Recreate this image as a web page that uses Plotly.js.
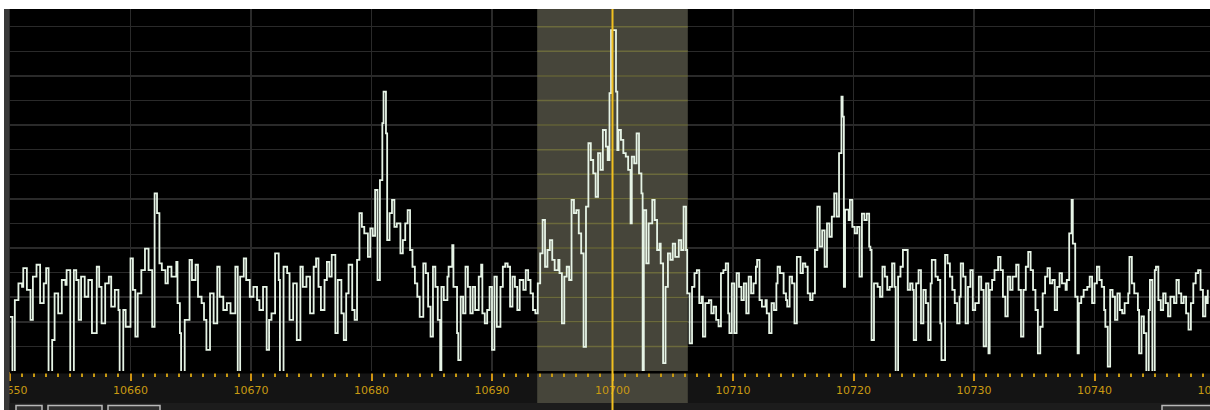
<!DOCTYPE html>
<html>
<head>
<meta charset="utf-8">
<script src="https://cdn.plot.ly/plotly-3.0.1.min.js"></script>
<style>
  html, body { margin: 0; padding: 0; background: #ffffff; overflow: hidden; width: 1210px; height: 410px; }
  #chart { width: 1215px; height: 410px; }
</style>
</head>
<body>
<div id="chart"></div>
<script>
const freqs = [
  10650.0,10650.2,10650.4,10650.7,10651.0,10651.1,10651.4,10651.7,10651.9,10652.2,10652.5,10652.8,10653.0,10653.2,10653.5,10653.7,
  10654.0,10654.3,10654.6,10654.7,10655.0,10655.3,10655.5,10655.7,10655.9,10656.2,10656.5,10656.8,10657.2,10657.4,10657.6,10657.9,
  10658.2,10658.4,10658.7,10659.0,10659.1,10659.4,10659.6,10660.0,10660.2,10660.4,10660.6,10660.9,10661.2,10661.5,10661.8,10662.0,
  10662.2,10662.4,10662.6,10662.9,10663.1,10663.4,10663.8,10663.9,10664.1,10664.2,10664.5,10664.9,10665.1,10665.4,10665.6,10665.9,
  10666.1,10666.3,10666.6,10666.9,10667.2,10667.4,10667.7,10668.0,10668.3,10668.7,10668.9,10669.1,10669.4,10669.6,10669.9,10670.2,
  10670.5,10670.7,10671.0,10671.3,10671.5,10671.7,10672.0,10672.3,10672.4,10672.7,10673.0,10673.2,10673.5,10673.8,10674.1,10674.3,
  10674.6,10674.9,10675.2,10675.4,10675.6,10675.8,10676.1,10676.3,10676.5,10676.7,10677.0,10677.2,10677.5,10677.7,10677.9,10678.1,
  10678.4,10678.6,10678.8,10679.0,10679.2,10679.4,10679.7,10679.9,10680.1,10680.3,10680.5,10680.7,10680.9,10681.0,10681.2,10681.3,
  10681.5,10681.7,10681.9,10682.1,10682.4,10682.6,10682.8,10683.0,10683.2,10683.4,10683.6,10683.8,10684.0,10684.3,10684.5,10684.7,
  10684.9,10685.1,10685.3,10685.5,10685.7,10685.8,10686.0,10686.3,10686.4,10686.7,10686.8,10687.1,10687.2,10687.4,10687.6,10687.8,
  10688.0,10688.2,10688.4,10688.6,10688.9,10689.1,10689.2,10689.4,10689.6,10689.8,10690.0,10690.2,10690.4,10690.7,10690.9,10691.1,
  10691.3,10691.5,10691.7,10691.9,10692.1,10692.3,10692.6,10692.8,10693.0,10693.2,10693.4,10693.6,10693.8,10694.0,10694.2,10694.4,
  10694.6,10694.8,10695.0,10695.2,10695.5,10695.6,10695.8,10696.0,10696.2,10696.4,10696.6,10696.8,10697.0,10697.2,10697.4,10697.6,
  10697.8,10698.0,10698.2,10698.4,10698.6,10698.8,10699.0,10699.2,10699.45,10699.6,10699.75,10699.88,10700.29,10700.4,10700.5,10700.7,
  10700.9,10701.1,10701.3,10701.5,10701.6,10701.8,10702.0,10702.2,10702.4,10702.5,10702.6,10702.8,10703.0,10703.3,10703.5,10703.7,
  10703.9,10704.0,10704.2,10704.4,10704.6,10704.8,10705.0,10705.2,10705.5,10705.7,10705.9,10706.1,10706.2,10706.4,10706.6,10706.8,
  10707.0,10707.2,10707.4,10707.5,10707.7,10708.0,10708.2,10708.4,10708.6,10708.8,10709.0,10709.2,10709.4,10709.6,10709.7,10709.9,
  10710.1,10710.3,10710.5,10710.7,10710.9,10711.1,10711.3,10711.5,10711.7,10711.9,10712.0,10712.2,10712.4,10712.7,10712.8,10713.0,
  10713.2,10713.4,10713.6,10713.7,10713.9,10714.2,10714.4,10714.5,10714.7,10714.9,10715.1,10715.3,10715.6,10715.8,10716.0,10716.2,
  10716.4,10716.6,10716.8,10717.0,10717.2,10717.4,10717.6,10717.8,10718.0,10718.2,10718.4,10718.6,10718.8,10719.0,10719.1,10719.2,
  10719.3,10719.6,10719.7,10719.9,10720.1,10720.3,10720.5,10720.7,10720.9,10721.1,10721.3,10721.4,10721.5,10721.7,10722.0,10722.2,
  10722.4,10722.6,10722.8,10723.0,10723.2,10723.4,10723.5,10723.7,10723.9,10724.1,
  10724.4,10724.5,10724.7,10724.9,10725.0,10725.2,10725.4,10725.6,10725.8,10726.0,10726.2,10726.4,10726.5,10726.8,10727.0,10727.2,
  10727.3,10727.6,10727.8,10728.0,10728.2,10728.4,10728.6,10728.8,10728.9,10729.1,10729.3,10729.5,10729.7,10729.9,10730.1,10730.4,
  10730.6,10730.8,10731.0,10731.2,10731.3,10731.5,10731.7,10732.0,10732.2,10732.4,10732.6,10732.8,10733.0,10733.2,10733.5,10733.7,
  10733.9,10734.1,10734.3,10734.5,10734.7,10734.9,10735.1,10735.3,10735.5,10735.7,10735.9,10736.1,10736.3,10736.5,10736.7,10736.9,
  10737.1,10737.3,10737.6,10737.7,10737.9,10738.1,10738.2,10738.4,10738.6,10738.7,10738.9,10739.1,10739.4,10739.6,10739.8,10740.0,
  10740.2,10740.4,10740.6,10740.8,10740.9,10741.1,10741.3,10741.5,10741.7,10741.9,10742.1,10742.3,10742.5,10742.8,10742.9,10743.1,
  10743.3,10743.6,10743.7,10743.9,10744.1,10744.3,10744.5,10744.6,10744.8,10745.0,10745.1,10745.3,10745.5,10745.7,10745.9,10746.1,
  10746.3,10746.6,10746.8,10747.0,10747.2,10747.4,10747.6,10747.8,10748.0,10748.2,10748.4,10748.6,10748.8,10749.0,10749.2,10749.3,
  10749.4
];
const levels = [
  -119.0,-132,-115.6,-112.2,-112.9,-109.1,-113.5,-119.6,-110.8,-108.4,-116.2,-112.2,-109.1,-132,-123.7,-114.2,
  -118.3,-111.5,-112.5,-109.5,-132,-109.5,-111.5,-119.6,-110.8,-114.9,-111.5,-122.3,-108.8,-112.9,-120.3,-112.2,
  -110.8,-116.9,-113.5,-117.6,-132,-117.6,-121.0,-107.1,-113.5,-123.0,-114.2,-109.5,-105.1,-109.5,-121.0,-93.9,
  -97.9,-108.1,-109.5,-112.2,-108.8,-110.8,-107.8,-116.2,-122.3,-132,-119.6,-107.4,-111.5,-108.4,-114.9,-116.2,
  -119.6,-125.7,-114.2,-120.3,-108.8,-114.9,-117.6,-116.2,-118.3,-108.8,-132,-110.8,-107.1,-111.5,-114.9,-112.9,
  -115.6,-117.6,-112.9,-125.7,-119.6,-118.3,-106.1,-111.5,-132,-108.8,-110.1,-119.6,-112.2,-123.7,-108.8,-112.9,
  -110.8,-118.3,-108.8,-107.1,-112.9,-117.6,-111.5,-107.8,-110.8,-106.4,-122.3,-111.5,-118.3,-123.7,-114.2,-108.4,
  -117.6,-119.6,-107.4,-97.9,-100.7,-102.0,-106.8,-101.0,-102.5,-93.2,-111.5,-91.2,-79.6,-73.2,-81.7,-103.4,
  -97.9,-95.2,-100.7,-100.0,-106.1,-103.4,-100.0,-97.3,-105.4,-108.8,-112.2,-114.9,-119.0,-108.1,-110.1,-116.9,
  -123.0,-108.8,-112.9,-119.6,-131,-112.9,-115.6,-110.8,-108.8,-104.4,-112.9,-122.3,-127.8,-114.9,-118.3,-108.8,
  -112.9,-118.3,-112.9,-117.6,-110.8,-108.4,-118.3,-120.3,-117.6,-112.9,-125.7,-110.8,-121.0,-112.9,-108.8,-108.1,
  -108.8,-116.9,-110.8,-112.9,-117.6,-111.5,-113.5,-109.5,-111.5,-114.2,-117.6,-118.3,-112.2,-106.1,-99.3,-108.8,
  -105.4,-103.4,-107.4,-109.5,-107.4,-110.1,-120.3,-110.8,-108.8,-111.5,-95.2,-97.9,-97.3,-102.0,-106.1,-125.1,
  -96.6,-83.7,-87.1,-89.8,-94.6,-85.7,-89.1,-81.0,-84.4,-87.1,-73.5,-60.7,-73.2,-85.1,-81.0,-83.0,
  -85.7,-86.4,-89.1,-100.0,-86.4,-87.8,-81.7,-89.8,-93.9,-131,-97.3,-108.1,-100.0,-95.2,-99.3,-105.4,
  -104.1,-108.1,-128.4,-112.9,-106.1,-107.4,-104.1,-106.8,-103.4,-105.4,-96.6,-105.4,-114.2,-124.4,-112.9,-110.1,
  -109.5,-116.2,-114.9,-123.0,-116.2,-115.6,-118.3,-116.9,-119.6,-120.9,-110.1,-109.5,-108.1,-118.3,-122.3,-112.2,
  -122.3,-110.1,-112.9,-115.6,-112.2,-118.3,-110.8,-114.2,-112.2,-108.8,-107.4,-115.6,-116.9,-115.6,-118.3,-122.3,
  -116.2,-117.6,-112.2,-108.8,-110.1,-114.2,-115.6,-116.9,-110.8,-112.2,-120.3,-106.8,-110.1,-108.1,-108.8,-114.2,
  -115.6,-114.2,-105.4,-96.6,-104.7,-101.4,-108.8,-100.0,-102.7,-98.6,-93.9,-98.6,-85.7,-74.2,-78.3,-112.9,
  -97.2,-99.3,-95.2,-100.7,-102.0,-100.7,-110.8,-98.0,-99.3,-98.0,-104.7,-105.4,-123.7,-112.2,-112.9,-114.9,
  -108.8,-110.8,-113.5,-112.9,-108.1,-112.9,-131,-110.8,-108.8,-105.4,
  -105.4,-113.5,-112.2,-113.5,-123.7,-112.2,-109.5,-120.3,-113.5,-116.2,-123.7,-112.2,-107.4,-110.8,-111.5,-120.3,
  -127.8,-106.4,-108.1,-110.8,-113.5,-116.2,-120.3,-114.9,-108.1,-110.8,-120.3,-112.9,-109.5,-117.6,-116.2,-110.8,
  -113.5,-125.0,-112.2,-126.4,-113.5,-111.5,-109.5,-106.8,-109.5,-114.9,-118.9,-110.8,-113.5,-110.8,-108.4,-113.5,
  -123.0,-113.5,-108.8,-105.8,-109.5,-113.5,-117.6,-126.4,-121.0,-114.2,-110.8,-109.1,-112.2,-111.5,-117.6,-112.9,
  -110.1,-112.2,-113.5,-111.5,-102.0,-95.2,-104.1,-114.9,-126.4,-116.2,-114.9,-113.5,-112.9,-110.8,-116.2,-112.2,
  -108.8,-111.5,-112.9,-117.6,-121.0,-129.1,-113.5,-114.9,-119.6,-114.2,-117.6,-118.3,-116.2,-114.2,-106.8,-112.2,
  -114.2,-117.6,-126.4,-118.9,-122.3,-132,-117.6,-111.5,-132,-109.5,-108.8,-115.6,-117.6,-114.2,-116.2,-118.9,
  -114.9,-116.2,-111.5,-114.2,-116.2,-114.9,-118.3,-121.6,-116.2,-112.2,-110.1,-109.5,-113.5,-118.9,-114.9,-116.2,
  -113.5
];
// Display settings
const freqRange = [10650, 10750];
const levelRange = [-130, -56.4];
const centerFreq = 10700;
const passband = [10693.75, 10706.25];
const gridLevels = [-125, -120, -115, -110, -105, -100, -95, -90, -85, -80, -75, -70, -65, -60];

// pixel -> paper helpers (plot area: x 10..1215, y 9..371)
const pxX = x => (x - 10) / 1205;
const pxY = y => (371 - y) / 362;

const shapes = [];
// passband fill in plot area
shapes.push({type:'rect', xref:'x', yref:'paper', x0:passband[0], x1:passband[1], y0:0, y1:1,
  fillcolor:'#46453a', line:{width:0}, layer:'between'});
// passband in tick strip
shapes.push({type:'rect', xref:'x', yref:'paper', x0:passband[0], x1:passband[1], y0:pxY(403), y1:0,
  fillcolor:'#46453a', line:{width:0}, layer:'below'});
// yellowish grid inside passband
gridLevels.forEach(v => shapes.push({type:'line', xref:'x', yref:'y', x0:passband[0], x1:passband[1], y0:v, y1:v,
  line:{color:'#6b6a3c', width:1.5}, layer:'between'}));
// black separator under the plot
shapes.push({type:'rect', xref:'paper', yref:'paper', x0:0, x1:1, y0:pxY(373.5), y1:0,
  fillcolor:'#000000', line:{width:0}, layer:'above'});
// top white strip
shapes.push({type:'rect', xref:'paper', yref:'paper', x0:pxX(0), x1:pxX(1215), y0:1, y1:pxY(0),
  fillcolor:'#ffffff', line:{width:0}, layer:'above'});
// left white + gray border
shapes.push({type:'rect', xref:'paper', yref:'paper', x0:pxX(0), x1:pxX(4), y0:pxY(410), y1:pxY(9),
  fillcolor:'#ffffff', line:{width:0}, layer:'above'});
shapes.push({type:'rect', xref:'paper', yref:'paper', x0:pxX(4), x1:pxX(9.5), y0:pxY(410), y1:pxY(9),
  fillcolor:'#383838', line:{width:0}, layer:'above'});
// bottom control bar
shapes.push({type:'rect', xref:'paper', yref:'paper', x0:pxX(9.5), x1:pxX(1215), y0:pxY(410), y1:pxY(403),
  fillcolor:'#1c1c1c', line:{width:0}, layer:'above'});
[[16,42],[48,102],[108,160],[1162,1215]].forEach(b => shapes.push({type:'rect', xref:'paper', yref:'paper',
  x0:pxX(b[0]), x1:pxX(b[1]), y0:pxY(413), y1:pxY(405.5), fillcolor:'#303030', line:{color:'#b8b8b8', width:1.5}, layer:'above'}));
// center (tuned) frequency marker
shapes.push({type:'line', xref:'x', yref:'paper', x0:centerFreq, x1:centerFreq, y0:pxY(410), y1:1,
  line:{color:'#f0c020', width:2}, layer:'above'});

const trace = {
  type:'scatter', mode:'lines', x:freqs, y:levels,
  line:{color:'#e6f4e6', width:1.8, shape:'hv'},
  hoverinfo:'skip', showlegend:false
};

const layout = {
  width:1215, height:410,
  margin:{l:10, r:0, t:9, b:39, pad:0},
  paper_bgcolor:'#141414', plot_bgcolor:'#000000',
  showlegend:false,
  xaxis:{
    range:freqRange, dtick:10, tick0:10650, tickformat:'d',
    showgrid:true, gridcolor:'#2a2a2a', gridwidth:1.5, zeroline:false, showline:false,
    ticks:'outside', ticklen:9, tickwidth:2, tickcolor:'#d09412',
    ticklabeloverflow:'allow',
    tickfont:{family:'DejaVu Sans', size:11, color:'#c89a12'},
    minor:{dtick:1, tick0:10650, ticks:'outside', ticklen:5, tickwidth:2, tickcolor:'#c89a12', showgrid:false},
    fixedrange:true
  },
  yaxis:{
    range:levelRange, dtick:5, tick0:-130,
    showgrid:true, gridcolor:'#2a2a2a', gridwidth:1.5, zeroline:false, showline:false,
    showticklabels:false, ticks:'', fixedrange:true
  },
  shapes:shapes
};

Plotly.newPlot('chart', [trace], layout, {displayModeBar:false, staticPlot:true});
</script>
</body>
</html>
